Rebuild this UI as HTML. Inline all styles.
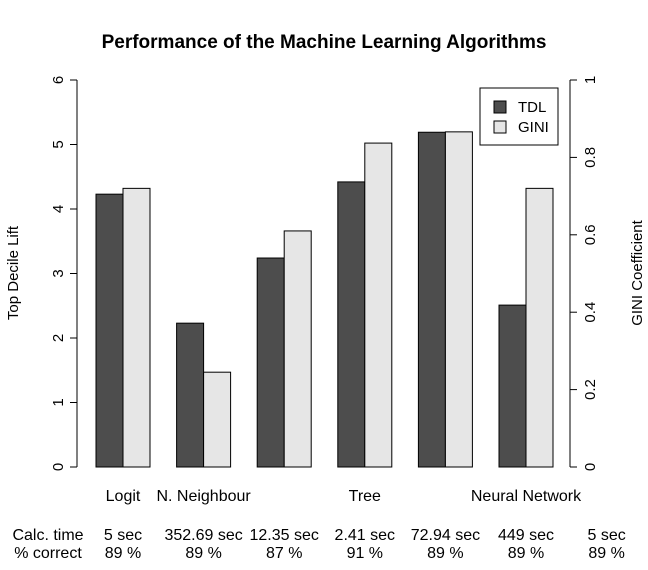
<!DOCTYPE html>
<html><head><meta charset="utf-8"><style>
body{margin:0;background:#fff}
svg text{font-family:"Liberation Sans",sans-serif;fill:#000}
</style></head><body>
<svg id="chart" width="648" height="565" xmlns="http://www.w3.org/2000/svg">
<text x="324" y="48" text-anchor="middle" font-size="19" font-weight="bold">Performance of the Machine Learning Algorithms</text>
<g id="bars"></g>
<g id="axes"></g>
<text transform="translate(18,273) rotate(-90)" text-anchor="middle" font-size="15">Top Decile Lift</text>
<text transform="translate(642,273) rotate(-90)" text-anchor="middle" font-size="15">GINI Coefficient</text>
<g>
<rect x="480" y="88" width="78" height="57" fill="#fff" stroke="#000"/>
<rect x="494" y="101" width="12" height="12" fill="#4d4d4d" stroke="#000"/>
<text x="518" y="112" font-size="15">TDL</text>
<rect x="494" y="121" width="12" height="12" fill="#e6e6e6" stroke="#000"/>
<text x="518" y="132" font-size="15">GINI</text>
</g>
<text x="48" y="540" text-anchor="middle" font-size="16">Calc. time</text>
<text x="48" y="558" text-anchor="middle" font-size="16">% correct</text>
<g id="bottom"></g>
</svg>
<script>
const categories=["Logit","N. Neighbour","","Tree","","Neural Network"];
const tdl=[4.23,2.23,3.24,4.42,5.19,2.51];
const gini=[0.72,0.245,0.61,0.837,0.866,0.72];
const yTicks=[0,1,2,3,4,5,6];
const y2Ticks=[0,0.2,0.4,0.6,0.8,1];
const calcTimes=["5 sec","352.69 sec","12.35 sec","2.41 sec","72.94 sec","449 sec","5 sec","352.69 sec"];
const pctCorrect=["89 %","89 %","87 %","91 %","89 %","89 %","89 %","89 %"];
const NS="http://www.w3.org/2000/svg";
const y0=467,yTop=80;
const yL=v=>y0-(y0-yTop)*v/6;
const yR=v=>y0-(y0-yTop)*v;
const groupX=i=>96+i*80.6;
const bw=27;
function mk(t,a,p){const e=document.createElementNS(NS,t);for(const k in a)e.setAttribute(k,a[k]);p.appendChild(e);return e;}
const bars=document.getElementById('bars');
tdl.forEach((v,i)=>{const r=mk('rect',{x:groupX(i),y:yL(v),width:bw,height:y0-yL(v),fill:'#4d4d4d',stroke:'#000'},bars);

});
gini.forEach((v,i)=>{const r=mk('rect',{x:groupX(i)+bw,y:yR(v),width:bw,height:y0-yR(v),fill:'#e6e6e6',stroke:'#000'},bars);

});
categories.forEach((c,i)=>{if(!c)return;const t=mk('text',{x:groupX(i)+bw,y:501,'text-anchor':'middle','font-size':16},bars);t.textContent=c;

});
const ax=document.getElementById('axes');
mk('line',{x1:77,x2:77,y1:yL(0),y2:yL(6),stroke:'#000'},ax);
yTicks.forEach(v=>{mk('line',{x1:70,x2:77,y1:yL(v),y2:yL(v),stroke:'#000'},ax);
const t=mk('text',{transform:`translate(63,${yL(v)}) rotate(-90)`,'text-anchor':'middle','font-size':15},ax);t.textContent=v;

});
mk('line',{x1:570,x2:570,y1:yR(0),y2:yR(1),stroke:'#000'},ax);
y2Ticks.forEach(v=>{mk('line',{x1:570,x2:577,y1:yR(v),y2:yR(v),stroke:'#000'},ax);
const t=mk('text',{transform:`translate(595,${yR(v)}) rotate(-90)`,'text-anchor':'middle','font-size':15},ax);t.textContent=String(v);

});
const bt=document.getElementById('bottom');
calcTimes.forEach((s,i)=>{const t=mk('text',{x:groupX(i)+bw,y:540,'text-anchor':'middle','font-size':16},bt);t.textContent=s;

});
pctCorrect.forEach((s,i)=>{const t=mk('text',{x:groupX(i)+bw,y:558,'text-anchor':'middle','font-size':16},bt);t.textContent=s;

});
</script>
</body></html>
